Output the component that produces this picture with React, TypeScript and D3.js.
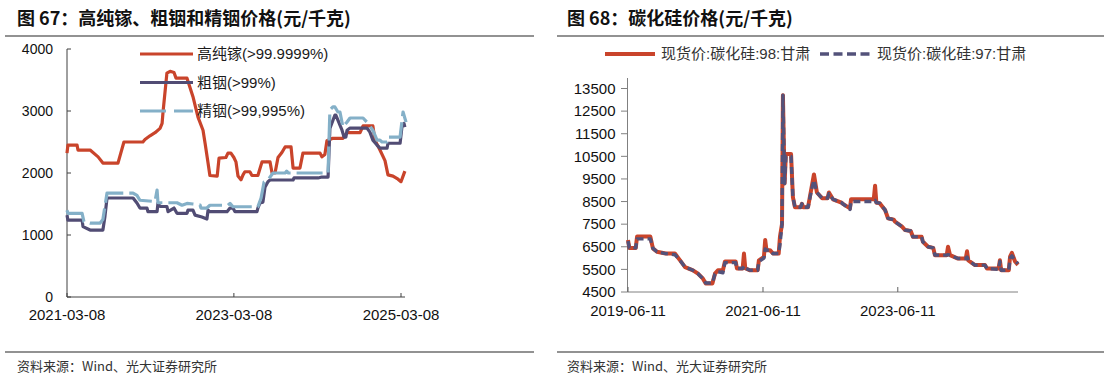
import React from 'react';
import * as d3 from 'd3';

const W = 1107;
const H = 378;
const FONT_CN = '"Noto Sans CJK SC", "Noto Sans", sans-serif';
const FONT_MIX = '"Liberation Sans", Arial, "Noto Sans CJK SC", sans-serif';

const RED = '#C9442B';
const PURPLE = '#514C74';
const LIGHTBLUE = '#84B0C8';
const SIC_DASH = '#53527A';

// ---------- Figure 67: gallium / indium prices ----------
const leftTitle = '图 67：高纯镓、粗铟和精铟价格(元/千克)';
const leftYTicks = [0, 1000, 2000, 3000, 4000];
const leftXTicks = ['2021-03-08', '2023-03-08', '2025-03-08'];
const leftLegend = ['高纯镓(>99.9999%)', '粗铟(>99%)', '精铟(>99,995%)'];

const galliumDates = [
  '2021-03-08', '2021-03-12', '2021-04-21', '2021-04-25', '2021-06-17', '2021-07-22', '2021-08-12', '2021-10-17',
  '2021-11-12', '2022-02-03', '2022-02-12', '2022-03-06', '2022-03-28', '2022-04-19', '2022-04-28', '2022-05-02',
  '2022-05-19', '2022-06-02', '2022-06-19', '2022-06-28', '2022-08-15', '2022-09-10', '2022-10-02', '2022-10-24',
  '2022-11-02', '2022-11-15', '2022-11-23', '2022-12-25', '2023-01-02', '2023-02-01', '2023-02-10', '2023-02-23',
  '2023-03-08', '2023-03-17', '2023-03-26', '2023-04-08', '2023-04-17', '2023-04-25', '2023-05-17', '2023-05-26',
  '2023-06-21', '2023-07-09', '2023-08-13', '2023-08-22', '2023-09-04', '2023-09-17', '2023-10-04', '2023-10-18',
  '2023-11-13', '2023-11-22', '2023-12-22', '2024-01-04', '2024-03-19', '2024-03-27', '2024-04-09', '2024-04-18',
  '2024-05-14', '2024-06-27', '2024-07-15', '2024-09-10', '2024-09-23', '2024-11-05', '2024-11-14', '2024-12-06',
  '2024-12-28', '2025-01-10', '2025-02-01', '2025-02-23', '2025-03-08', '2025-03-17', '2025-03-25',
];
const galliumValues = [
  2320, 2450, 2450, 2370, 2370, 2260, 2160, 2160,
  2500, 2500, 2540, 2600, 2650, 2720, 2800, 2980,
  3610, 3640, 3620, 3530, 3530, 3230, 2900, 2690,
  2480, 2160, 1960, 1950, 2240, 2250, 2320, 2320,
  2250, 2180, 1950, 1890, 1970, 2020, 2020, 1960,
  1960, 2180, 2180, 2000, 2000, 2250, 2330, 2420,
  2420, 2080, 2080, 2320, 2320, 2260, 2300, 2520,
  2560, 2560, 2650, 2650, 2760, 2760, 2530, 2370,
  2200, 1970, 1950, 1900, 1860, 1950, 2030,
];

const crudeIndiumDates = [
  '2021-03-08', '2021-03-12', '2021-05-13', '2021-05-17', '2021-06-17', '2021-08-12', '2021-08-21', '2021-08-30',
  '2021-12-22', '2022-01-08', '2022-01-21', '2022-02-21', '2022-02-25', '2022-04-06', '2022-04-10', '2022-04-19',
  '2022-05-19', '2022-05-24', '2022-06-19', '2022-07-02', '2022-08-15', '2022-08-19', '2022-09-10', '2022-09-19',
  '2022-10-19', '2022-11-10', '2022-11-15', '2022-11-23', '2023-02-06', '2023-02-19', '2023-03-04', '2023-03-13',
  '2023-06-17', '2023-06-21', '2023-06-30', '2023-07-13', '2023-07-22', '2023-08-04', '2023-08-13', '2023-11-22',
  '2023-11-26', '2024-03-10', '2024-03-27', '2024-04-23', '2024-05-01', '2024-05-23', '2024-05-27', '2024-06-23',
  '2024-07-02', '2024-07-10', '2024-07-15', '2024-07-28', '2024-10-10', '2024-10-23', '2024-11-05', '2024-11-23',
  '2024-12-06', '2025-01-06', '2025-01-10', '2025-03-04', '2025-03-12', '2025-03-21', '2025-03-25',
];
const crudeIndiumValues = [
  1320, 1240, 1240, 1135, 1080, 1080, 1300, 1597,
  1597, 1516, 1435, 1435, 1376, 1376, 1516, 1460,
  1460, 1376, 1435, 1350, 1350, 1400, 1400, 1320,
  1290, 1258, 1400, 1376, 1376, 1435, 1435, 1376,
  1376, 1435, 1516, 1530, 1770, 1860, 1887, 1887,
  1920, 1920, 1935, 1935, 2720, 2935, 2935, 2690,
  2580, 2580, 2690, 2725, 2725, 2660, 2530, 2450,
  2400, 2400, 2480, 2480, 2740, 2800, 2740,
];

const refinedIndiumDates = [
  '2021-03-08', '2021-03-12', '2021-05-13', '2021-05-21', '2021-06-17', '2021-07-30', '2021-08-12', '2021-08-30',
  '2021-12-22', '2022-01-08', '2022-01-21', '2022-03-28', '2022-04-06', '2022-04-10', '2022-07-02', '2022-07-24',
  '2022-08-15', '2022-09-10', '2022-10-11', '2022-10-15', '2022-11-10', '2022-11-23', '2023-02-10', '2023-02-19',
  '2023-03-04', '2023-06-21', '2023-07-05', '2023-07-18', '2023-08-04', '2023-08-26', '2023-10-18', '2023-10-25',
  '2023-11-01', '2024-04-23', '2024-05-01', '2024-05-14', '2024-05-23', '2024-06-05', '2024-06-14', '2024-06-27',
  '2024-07-15', '2024-07-28', '2024-09-23', '2024-10-10', '2024-11-05', '2024-11-23', '2024-12-06', '2024-12-15',
  '2025-01-06', '2025-01-10', '2025-03-04', '2025-03-17', '2025-03-30',
];
const refinedIndiumValues = [
  1400, 1350, 1350, 1215, 1190, 1190, 1250, 1677,
  1677, 1640, 1560, 1540, 1725, 1520, 1520, 1480,
  1510, 1500, 1484, 1435, 1435, 1480, 1480, 1510,
  1456, 1456, 1597, 1855, 1887, 2000, 2000, 2030,
  2000, 2000, 3016, 3065, 3065, 2984, 2984, 2740,
  2823, 2887, 2887, 2820, 2690, 2530, 2530, 2500,
  2500, 2580, 2580, 2984, 2820,
];

// ---------- Figure 68: silicon carbide prices ----------
const rightTitle = '图 68：碳化硅价格(元/千克)';
const rightYTicks = [4500, 5500, 6500, 7500, 8500, 9500, 10500, 11500, 12500, 13500];
const rightXTicks = ['2019-06-11', '2021-06-11', '2023-06-11'];
const rightLegend = ['现货价:碳化硅:98:甘肃', '现货价:碳化硅:97:甘肃'];

const sicDates = [
  '2019-06-11', '2019-06-18', '2019-07-23', '2019-07-30', '2019-10-10', '2019-10-24', '2019-11-15', '2020-01-01',
  '2020-02-20', '2020-03-19', '2020-04-15', '2020-05-28', '2020-06-24', '2020-07-21', '2020-08-05', '2020-09-10',
  '2020-09-24', '2020-10-10', '2020-11-06', '2020-11-17', '2021-01-14', '2021-01-21', '2021-02-21', '2021-02-28',
  '2021-03-07', '2021-04-02', '2021-05-13', '2021-05-20', '2021-06-16', '2021-06-23', '2021-06-30', '2021-07-19',
  '2021-08-04', '2021-09-04', '2021-09-11', '2021-09-22', '2021-09-27', '2021-10-06', '2021-10-13', '2021-11-10',
  '2021-11-20', '2021-12-01', '2022-01-01', '2022-01-08', '2022-01-15', '2022-02-10', '2022-03-03', '2022-03-14',
  '2022-03-30', '2022-04-27', '2022-05-27', '2022-06-03', '2022-06-25', '2022-08-10', '2022-08-18', '2022-09-25',
  '2022-10-01', '2023-02-01', '2023-02-08', '2023-02-15', '2023-03-05', '2023-04-03', '2023-04-19', '2023-05-20',
  '2023-05-27', '2023-07-04', '2023-07-20', '2023-08-20', '2023-09-01', '2023-10-18', '2023-10-25', '2023-11-22',
  '2023-12-20', '2023-12-29', '2024-03-02', '2024-03-09', '2024-03-20', '2024-05-02', '2024-06-13', '2024-06-20',
  '2024-06-27', '2024-08-02', '2024-09-25', '2024-10-06', '2024-12-08', '2024-12-15', '2024-12-22', '2025-02-01',
  '2025-02-08', '2025-02-18', '2025-03-07', '2025-03-23',
];
const sic98Values = [
  6800, 6450, 6450, 6950, 6950, 6430, 6280, 6200,
  6200, 5900, 5600, 5460, 5310, 5090, 4880, 4880,
  5310, 5460, 5460, 5850, 5850, 5540, 5540, 6200,
  5550, 5460, 5460, 5900, 6050, 6800, 6350, 6350,
  6200, 6200, 6950, 7500, 13200, 9300, 10600, 10600,
  8700, 8250, 8250, 8400, 8250, 8250, 9200, 9700,
  8900, 8650, 8650, 8900, 8600, 8450, 8400, 8200,
  8600, 8600, 9200, 8450, 8430, 8130, 7760, 7700,
  7610, 7390, 7240, 7200, 6940, 6940, 6720, 6500,
  6450, 6130, 6130, 6500, 6130, 5980, 5980, 6300,
  5900, 5690, 5690, 5540, 5540, 5900, 5460, 5460,
  6060, 6230, 5850, 5700,
];
const sic97Values = [
  6750, 6450, 6450, 6850, 6850, 6430, 6280, 6200,
  6150, 5900, 5600, 5460, 5310, 5090, 4900, 4900,
  5300, 5400, 5350, 5800, 5800, 5540, 5540, 5650,
  5550, 5460, 5460, 5850, 6000, 6400, 6350, 6350,
  6200, 6200, 6600, 7500, 13200, 9300, 10500, 10500,
  8700, 8250, 8250, 8400, 8250, 8250, 9100, 9450,
  8900, 8650, 8650, 8850, 8600, 8450, 8400, 8150,
  8500, 8500, 8550, 8450, 8430, 8130, 7760, 7700,
  7610, 7390, 7240, 7200, 6940, 6940, 6720, 6500,
  6450, 6130, 6130, 6150, 6130, 5980, 5980, 6050,
  5900, 5690, 5690, 5540, 5500, 5850, 5460, 5460,
  6000, 6100, 5900, 5750,
];

const footerText = '资料来源：Wind、光大证券研究所';

const parse = d3.timeParse('%Y-%m-%d');

function series(dates: string[], values: number[]) {
  return dates.map((d, i) => ({ date: parse(d) as Date, value: values[i] }));
}

function Frame({ x0, x1, title, titleX }: { x0: number; x1: number; title: string; titleX: number }) {
  return (
    <g>
      <text x={titleX} y={24.5} fontFamily={FONT_CN} fontWeight={700} fontSize={18} fill="#111">{title}</text>
      <line x1={x0} x2={x1} y1={36} y2={36} stroke="#6e6e6e" strokeWidth={1.5} />
      <line x1={x0} x2={x1} y1={352} y2={352} stroke="#6e6e6e" strokeWidth={1.5} />
      <text x={titleX} y={370.5} fontFamily={FONT_CN} fontSize={13} fill="#333">{footerText}</text>
    </g>
  );
}

export default function App() {
  // Left chart scales
  const xL = d3.scaleTime().domain([parse('2021-03-08') as Date, parse('2025-03-08') as Date]).range([67, 401]);
  const yL = d3.scaleLinear().domain([0, 4000]).range([297, 49]);
  const lineL = d3.line<{ date: Date; value: number }>().x((d) => xL(d.date)).y((d) => yL(d.value));

  const gallium = series(galliumDates, galliumValues);
  const crude = series(crudeIndiumDates, crudeIndiumValues);
  const refined = series(refinedIndiumDates, refinedIndiumValues);

  // Right chart scales
  const xR = d3.scaleTime().domain([parse('2019-06-11') as Date, parse('2025-03-23') as Date]).range([628, 1018]);
  const yR = d3.scaleLinear().domain([4500, 13500]).range([292, 88.5]);
  const lineR = d3.line<{ date: Date; value: number }>().x((d) => xR(d.date)).y((d) => yR(d.value));
  const sic98 = series(sicDates, sic98Values);
  const sic97 = series(sicDates, sic97Values);

  const leftLegendStyles = [
    { stroke: RED, dash: undefined as string | undefined },
    { stroke: PURPLE, dash: undefined as string | undefined },
    { stroke: LIGHTBLUE, dash: '26,8' },
  ];

  return (
    <svg width={W} height={H} viewBox={`0 0 ${W} ${H}`} style={{ position: 'absolute', left: 0, top: 0, background: '#fff' }}>
      <rect x={0} y={0} width={W} height={H} fill="#fff" />
      <Frame x0={5} x1={534} title={leftTitle} titleX={17} />
      <Frame x0={557} x1={1104} title={rightTitle} titleX={567} />

      {/* ----- Left chart ----- */}
      <g>
        <line x1={67} x2={67} y1={yL(4000)} y2={yL(0)} stroke="#404040" strokeWidth={1} />
        <line x1={67} x2={405} y1={yL(0)} y2={yL(0)} stroke="#404040" strokeWidth={1} />
        {leftYTicks.map((t) => (
          <g key={t}>
            <line x1={67} x2={71} y1={yL(t)} y2={yL(t)} stroke="#404040" />
            <text x={53} y={yL(t)} dy="0.35em" textAnchor="end" fontFamily={FONT_MIX} fontSize={14} fill="#111">{t}</text>
          </g>
        ))}
        {leftXTicks.map((t) => {
          const x = xL(parse(t) as Date);
          return (
            <g key={t}>
              <line x1={x} x2={x} y1={yL(0)} y2={yL(0) - 4} stroke="#404040" />
              <text x={x} y={319.5} textAnchor="middle" fontFamily={FONT_MIX} fontSize={15} fill="#111">{t}</text>
            </g>
          );
        })}
        <path d={lineL(gallium) || ''} fill="none" stroke={RED} strokeWidth={3.2} strokeLinejoin="round" />
        <path d={lineL(crude) || ''} fill="none" stroke={PURPLE} strokeWidth={3.2} strokeLinejoin="round" />
        <path d={lineL(refined) || ''} fill="none" stroke={LIGHTBLUE} strokeWidth={3.2} strokeDasharray="26,6" strokeLinejoin="round" />
        {leftLegend.map((label, i) => {
          const y = 54 + i * 28.5;
          return (
            <g key={label}>
              <line x1={140} x2={193} y1={y} y2={y} stroke={leftLegendStyles[i].stroke} strokeWidth={3.2} strokeDasharray={leftLegendStyles[i].dash} />
              <text x={197} y={y} dy="0.36em" fontFamily={FONT_MIX} fontSize={15} fill="#1a1a1a">{label}</text>
            </g>
          );
        })}
      </g>

      {/* ----- Right chart ----- */}
      <g>
        <line x1={627.5} x2={627.5} y1={78} y2={292} stroke="#808080" strokeWidth={1} />
        <line x1={627.5} x2={1018} y1={292} y2={292} stroke="#808080" strokeWidth={1} />
        {rightYTicks.map((t) => (
          <g key={t}>
            <line x1={621} x2={627.5} y1={yR(t)} y2={yR(t)} stroke="#808080" />
            <text x={615.5} y={yR(t)} dy="0.35em" textAnchor="end" fontFamily={FONT_MIX} fontSize={15} fill="#111">{t}</text>
          </g>
        ))}
        {rightXTicks.map((t) => {
          const x = xR(parse(t) as Date);
          return (
            <g key={t}>
              <line x1={x} x2={x} y1={292} y2={287} stroke="#606060" />
              <text x={x} y={316} textAnchor="middle" fontFamily={FONT_MIX} fontSize={15} fill="#111">{t}</text>
            </g>
          );
        })}
        <path d={lineR(sic98) || ''} fill="none" stroke={RED} strokeWidth={4} strokeLinejoin="round" />
        <path d={lineR(sic97) || ''} fill="none" stroke={SIC_DASH} strokeWidth={3.4} strokeDasharray="7,4" strokeLinejoin="round" />

        <line x1={605} x2={655} y1={54} y2={54} stroke={RED} strokeWidth={4} />
        <text x={661} y={54} dy="0.36em" fontFamily={FONT_MIX} fontSize={15} fill="#333">{rightLegend[0]}</text>
        <line x1={820} x2={872} y1={54} y2={54} stroke={SIC_DASH} strokeWidth={3.4} strokeDasharray="9,4.5" />
        <text x={877} y={54} dy="0.36em" fontFamily={FONT_MIX} fontSize={15} fill="#333">{rightLegend[1]}</text>
      </g>
    </svg>
  );
}
